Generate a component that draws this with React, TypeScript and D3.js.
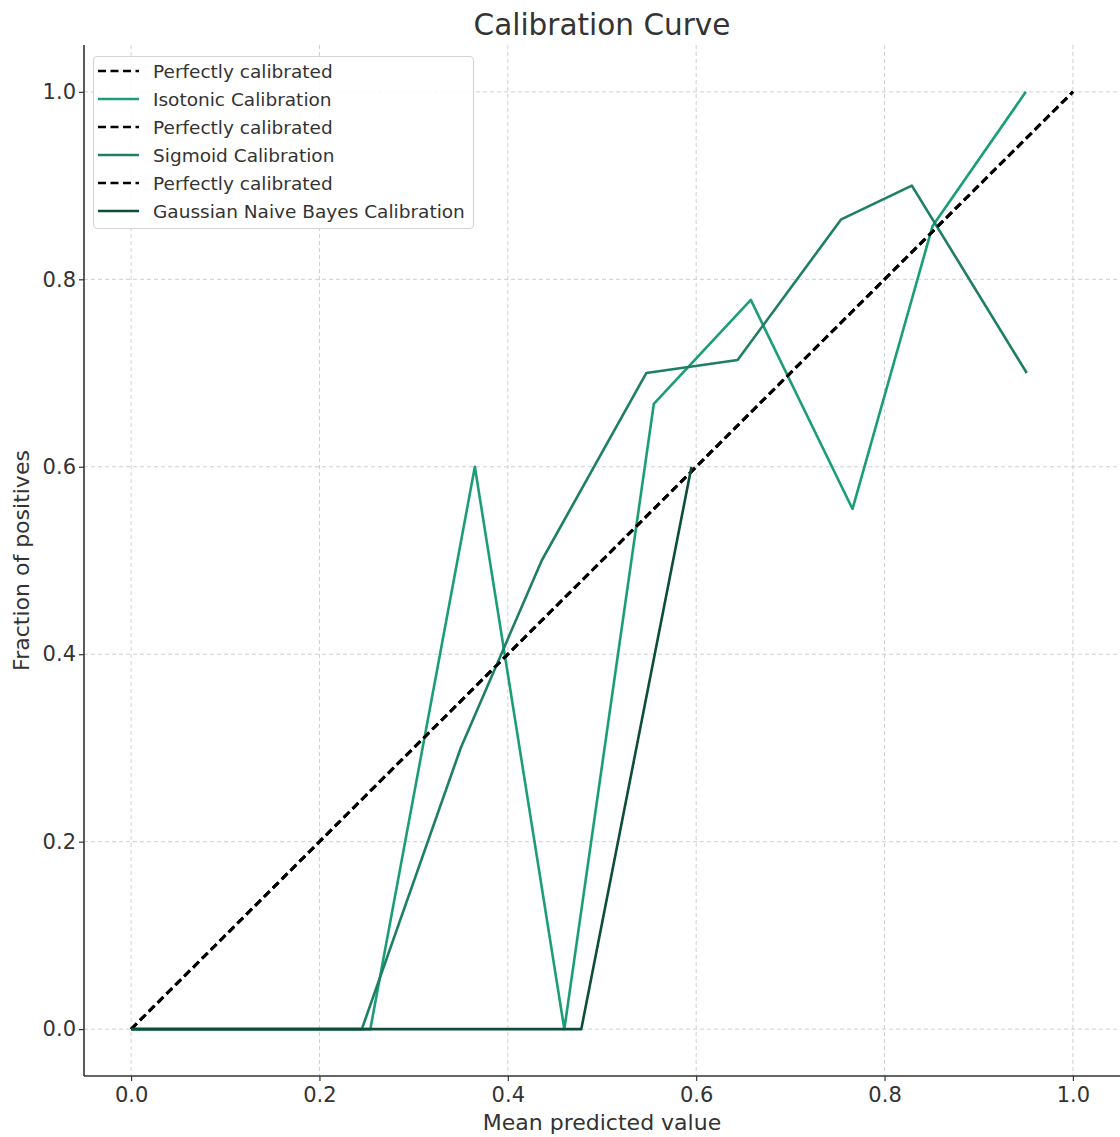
import React, { useEffect, useRef } from "react";
import * as d3 from "d3";

// calibration points
const diagX = [0, 1];
const diagY = [0, 1];

const isoX = [0, 0.254, 0.365, 0.46, 0.555, 0.658, 0.766, 0.851, 0.95];
const isoY = [0, 0, 0.6, 0, 0.667, 0.778, 0.555, 0.857, 1.0];

const sigX = [0, 0.245, 0.35, 0.436, 0.547, 0.644, 0.754, 0.829, 0.951];
const sigY = [0, 0, 0.3, 0.5, 0.7, 0.714, 0.864, 0.9, 0.7];

const gnbX = [0, 0.478, 0.595];
const gnbY = [0, 0, 0.6];

const ticks = [0, 0.2, 0.4, 0.6, 0.8, 1.0];

const series = [
  { name: "Perfectly calibrated", xs: diagX, ys: diagY, color: "#000000", dashed: true },
  { name: "Isotonic Calibration", xs: isoX, ys: isoY, color: "#1b9e77", dashed: false },
  { name: "Perfectly calibrated", xs: diagX, ys: diagY, color: "#000000", dashed: true },
  { name: "Sigmoid Calibration", xs: sigX, ys: sigY, color: "#1d7f64", dashed: false },
  { name: "Perfectly calibrated", xs: diagX, ys: diagY, color: "#000000", dashed: true },
  { name: "Gaussian Naive Bayes Calibration", xs: gnbX, ys: gnbY, color: "#0e4d3a", dashed: false },
];

const App = () => {
  const ref = useRef<SVGSVGElement | null>(null);
  const width = 1120;
  const height = 1137;
  const m = { left: 84, right: 1120, top: 45, bottom: 1076 };

  useEffect(() => {
    if (!ref.current) return;
    const svg = d3.select(ref.current);
    svg.selectAll("*").remove();
    const font = "DejaVu Sans, sans-serif";

    const x = d3.scaleLinear().domain([-0.05, 1.05]).range([m.left, m.right]);
    const y = d3.scaleLinear().domain([-0.05, 1.05]).range([m.bottom, m.top]);

    svg.append("rect").attr("width", width).attr("height", height).attr("fill", "#fff");

    // grid
    const grid = svg.append("g").attr("stroke", "#cfcfcf").attr("stroke-width", 1).attr("stroke-dasharray", "4,3");
    ticks.forEach((t) => {
      grid.append("line").attr("x1", x(t)).attr("x2", x(t)).attr("y1", m.top).attr("y2", m.bottom);
      grid.append("line").attr("x1", m.left).attr("x2", m.right).attr("y1", y(t)).attr("y2", y(t));
    });

    // axes
    const xAxis = svg
      .append("g")
      .attr("transform", `translate(0,${m.bottom})`)
      .call(d3.axisBottom(x).tickValues(ticks).tickFormat(d3.format(".1f")).tickSize(5).tickPadding(6));
    const yAxis = svg
      .append("g")
      .attr("transform", `translate(${m.left},0)`)
      .call(d3.axisLeft(y).tickValues(ticks).tickFormat(d3.format(".1f")).tickSize(5).tickPadding(3));
    [xAxis, yAxis].forEach((a) => {
      a.select(".domain").attr("stroke", "#333").attr("stroke-width", 1.6);
      a.selectAll(".tick line").attr("stroke", "#333").attr("stroke-width", 1.2);
      a.selectAll(".tick text").attr("fill", "#333").style("font-family", font).style("font-size", "21px");
    });
    xAxis.select(".domain").attr("d", `M${m.left},0H${m.right}`);
    yAxis.select(".domain").attr("d", `M0,${m.top}V${m.bottom}`);

    // lines
    series.forEach((s) => {
      const pts: [number, number][] = s.xs.map((v, i) => [x(v), y(s.ys[i])]);
      svg
        .append("path")
        .attr("d", d3.line()(pts))
        .attr("fill", "none")
        .attr("stroke", s.color)
        .attr("stroke-width", s.dashed ? 2.8 : 2.6)
        .attr("stroke-dasharray", s.dashed ? "8,4.5" : null)
        .attr("stroke-linejoin", "round");
    });

    // legend
    const lg = svg.append("g");
    lg.append("rect")
      .attr("x", 93.5)
      .attr("y", 56.5)
      .attr("width", 380)
      .attr("height", 172)
      .attr("rx", 4)
      .attr("fill", "rgba(255,255,255,0.85)")
      .attr("stroke", "#d5d5d5")
      .attr("stroke-width", 1.2);
    series.forEach((s, i) => {
      const ly = 71 + i * 28;
      lg.append("line")
        .attr("x1", 98)
        .attr("x2", 139)
        .attr("y1", ly)
        .attr("y2", ly)
        .attr("stroke", s.color)
        .attr("stroke-width", 2.6)
        .attr("stroke-dasharray", s.dashed ? "8,4.5" : null);
      lg.append("text")
        .attr("x", 153)
        .attr("y", ly + 6.5)
        .attr("fill", "#333")
        .style("font-family", font)
        .style("font-size", "18.5px")
        .text(s.name);
    });

    // title and labels
    svg.append("text")
      .attr("x", (m.left + m.right) / 2)
      .attr("y", 35)
      .attr("text-anchor", "middle")
      .attr("fill", "#333")
      .style("font-family", font)
      .style("font-size", "29.5px")
      .text("Calibration Curve");
    svg.append("text")
      .attr("x", (m.left + m.right) / 2)
      .attr("y", 1130)
      .attr("text-anchor", "middle")
      .attr("fill", "#333")
      .style("font-family", font)
      .style("font-size", "22px")
      .text("Mean predicted value");
    svg.append("text")
      .attr("transform", `translate(29,${(m.top + m.bottom) / 2}) rotate(-90)`)
      .attr("text-anchor", "middle")
      .attr("fill", "#333")
      .style("font-family", font)
      .style("font-size", "22px")
      .text("Fraction of positives");
  }, []);

  return (
    <div style={{ position: "absolute", left: 0, top: 0 }}>
      <svg ref={ref} width={width} height={height} style={{ display: "block" }}></svg>
    </div>
  );
};

export default App;
